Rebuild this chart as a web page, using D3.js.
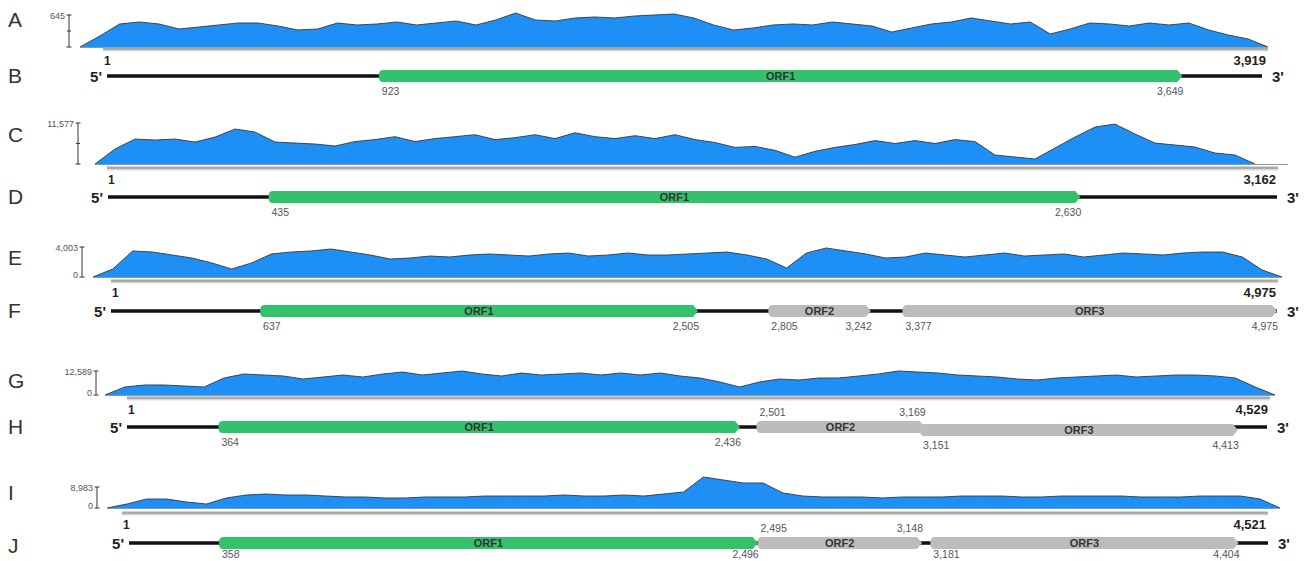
<!DOCTYPE html>
<html>
<head>
<meta charset="utf-8">
<script src="https://cdn.jsdelivr.net/npm/d3@7"></script>
<style>
  body { margin: 0; background: #fff; }
  svg text { font-family: "Liberation Sans", Arial, sans-serif; }
</style>
</head>
<body>
<div id="chart"></div>
<script>
/* DATA */
const panelLetters = ["A", "B", "C", "D", "E", "F", "G", "H", "I", "J"];
const genomeLengths = [3919, 3162, 4975, 4529, 4521];
const coverageMax = [645, 11577, 4003, 12589, 8983];

// coverage, evenly spaced bins along each genome
const covA = [0,222,464,504,464,363,403,444,484,484,423,343,363,484,444,464,504,444,484,524,444,544,685,544,524,585,605,585,625,645,665,585,444,343,383,444,464,444,504,464,423,302,383,464,504,585,524,464,504,262,363,484,464,423,484,444,484,343,242,161,0];
const covC = [0,4230,7050,6770,7050,6200,7610,9870,9020,6200,5920,5640,5080,6340,6890,7720,6340,7170,7720,8270,6890,7440,8270,7170,8820,7720,7170,7990,7170,8270,6890,6060,4690,4960,3860,1930,3580,4690,5510,6610,5790,6610,5790,6890,6340,2540,1970,1410,4510,7610,10430,11280,8460,5920,5360,4790,3100,2540,0];
const covE = [0,1070,3470,3335,2935,2535,1870,1070,1870,3070,3335,3470,3735,3335,2935,2400,2535,2800,2670,2935,3070,2935,2800,3070,3200,2800,2935,3200,2935,2935,3070,3200,3335,2935,2400,1200,3200,3870,3470,3070,2535,2670,3200,2935,2670,2935,3200,2800,2935,3070,2670,2935,3200,3070,2935,3200,3335,3335,2670,930,0];
const covG = [0,4200,5250,5250,4720,4200,8920,11010,10490,9970,8390,9440,10490,9440,11010,12060,10490,11540,12590,11010,9970,11540,10490,11010,11540,10490,11540,10490,11540,9970,8920,6820,4200,6820,8390,7870,8920,8920,9970,11010,12590,12060,11540,10490,9970,9440,8390,7870,8920,9440,9970,10490,9440,9970,10490,10490,9970,8920,4200,0];
const covI = [0,1710,3850,3850,2570,1710,4280,5560,5990,5560,5560,5130,4710,4710,4280,4280,4710,4710,4710,5130,5130,5130,5130,5560,5130,5130,5560,5130,5990,6840,13260,11980,10700,10700,6420,5130,4710,4710,4710,4280,4710,4710,4710,5130,5130,5130,4710,4710,5130,5130,5130,5130,4710,4710,4710,5130,5130,5130,3850,0];
const coverage = [covA, covC, covE, covG, covI];

const orfNames = [["ORF1"], ["ORF1"], ["ORF1", "ORF2", "ORF3"], ["ORF1", "ORF2", "ORF3"], ["ORF1", "ORF2", "ORF3"]];
const orfStarts = [[923], [435], [637, 2805, 3377], [364, 2501, 3151], [358, 2495, 3181]];
const orfEnds = [[3649], [2630], [2505, 3242, 4975], [2436, 3169, 4413], [2496, 3148, 4404]];

/* LAYOUT */
const width = 1306, height = 561;
const rows = [
  { covBase: 47,  covPx: 32, covX: [80, 1268],  barX: 69, zeroLabel: false, gY: 49,  gX: [103, 1268], rowY: 76,  rowX: [107, 1262], letterY: [20, 76] },
  { covBase: 164, covPx: 41, covX: [95, 1255],  barX: 78, zeroLabel: false, gY: 168, gX: [107, 1278], rowY: 197, rowX: [108, 1277], letterY: [135, 197], baseEnd: 1288 },
  { covBase: 277, covPx: 30, covX: [93, 1282],  barX: 82, zeroLabel: true,  gY: 281, gX: [111, 1278], rowY: 311, rowX: [111, 1277], letterY: [258, 311] },
  { covBase: 395, covPx: 24, covX: [105, 1275], barX: 96, zeroLabel: true,  gY: 398, gX: [127, 1270], rowY: 427, rowX: [127, 1267], letterY: [381, 427] },
  { covBase: 508, covPx: 21, covX: [107, 1280], barX: 97, zeroLabel: true,  gY: 513, gX: [122, 1268], rowY: 543, rowX: [129, 1268], letterY: [493, 546] }
];
const fmt = d3.format(",");

const svg = d3.select("#chart").append("svg")
  .attr("width", width)
  .attr("height", height);

rows.forEach((r, i) => {
  const len = genomeLengths[i];
  const cov = coverage[i];

  // letters
  svg.append("text").attr("x", 8).attr("y", r.letterY[0] + 7)
    .attr("font-size", 21).attr("fill", "#333").text(panelLetters[i * 2]);
  svg.append("text").attr("x", 8).attr("y", r.letterY[1] + 7)
    .attr("font-size", 21).attr("fill", "#333").text(panelLetters[i * 2 + 1]);

  // COVERAGE
  const xCov = d3.scaleLinear().domain([0, cov.length - 1]).range(r.covX);
  const yCov = d3.scaleLinear().domain([0, coverageMax[i]]).range([r.covBase, r.covBase - r.covPx]);

  const area = d3.area().x((d, j) => xCov(j)).y0(r.covBase).y1(d => yCov(d));
  const line = d3.line().x((d, j) => xCov(j)).y(d => yCov(d));

  svg.append("path").datum(cov).attr("d", area).attr("fill", "#1e8ff5");
  svg.append("path").datum(cov).attr("d", line)
    .attr("fill", "none").attr("stroke", "#2c3a48").attr("stroke-width", 0.9);
  svg.append("line")
    .attr("x1", r.covX[0]).attr("x2", r.baseEnd || r.covX[1])
    .attr("y1", r.covBase + 0.5).attr("y2", r.covBase + 0.5)
    .attr("stroke", "#8a9aa8").attr("stroke-width", 1);

  // scale bar
  const bar = svg.append("g").attr("transform", `translate(${r.barX},0)`);
  bar.append("line").attr("y1", yCov(coverageMax[i])).attr("y2", r.covBase)
    .attr("stroke", "#333").attr("stroke-width", 1);
  [coverageMax[i], 0].forEach(v => {
    bar.append("line").attr("x1", -2.5).attr("x2", 2.5)
      .attr("y1", yCov(v)).attr("y2", yCov(v)).attr("stroke", "#333");
  });
  if (!r.zeroLabel) {
    bar.append("line").attr("x1", -2).attr("x2", 2)
      .attr("y1", yCov(coverageMax[i] / 2)).attr("y2", yCov(coverageMax[i] / 2)).attr("stroke", "#333");
  }
  bar.append("text").attr("x", -4).attr("y", yCov(coverageMax[i]) + 4)
    .attr("text-anchor", "end").attr("font-size", 9).attr("fill", "#555")
    .text(fmt(coverageMax[i]));
  if (r.zeroLabel) {
    bar.append("text").attr("x", -4).attr("y", r.covBase + 1)
      .attr("text-anchor", "end").attr("font-size", 9).attr("fill", "#555").text("0");
  }

  // genome ruler under the coverage
  const xG = d3.scaleLinear().domain([1, len]).range(r.gX);
  svg.append("rect").attr("x", xG(1)).attr("y", r.gY - 1.5)
    .attr("width", xG(len) - xG(1)).attr("height", 3).attr("fill", "#a9a9a9");
  svg.append("line").attr("x1", xG(1)).attr("x2", xG(len))
    .attr("y1", r.gY + 2).attr("y2", r.gY + 2).attr("stroke", "#dcdcdc");
  svg.append("text").attr("x", xG(1) + 1).attr("y", r.gY + 16)
    .attr("font-size", 12).attr("font-weight", "bold").attr("fill", "#222").text("1");
  svg.append("text").attr("x", xG(len) - 2).attr("y", r.gY + 16)
    .attr("text-anchor", "end").attr("font-size", 13).attr("font-weight", "bold")
    .attr("fill", "#222").text(fmt(len));

  // GENOME MAP
  const x = d3.scaleLinear().domain([1, len]).range(r.rowX);
  svg.append("line").attr("x1", x(1)).attr("x2", x(len))
    .attr("y1", r.rowY).attr("y2", r.rowY)
    .attr("stroke", "#111").attr("stroke-width", 3.5);
  svg.append("text").attr("x", x(1) - 5).attr("y", r.rowY + 6)
    .attr("text-anchor", "end").attr("font-size", 15).attr("font-weight", "bold")
    .attr("fill", "#222").text("5'");
  svg.append("text").attr("x", x(len) + 10).attr("y", r.rowY + 6)
    .attr("font-size", 15).attr("font-weight", "bold").attr("fill", "#222").text("3'");

  const h = 12;
  orfNames[i].forEach((name, k) => {
    const s = orfStarts[i][k], e = orfEnds[i][k];
    const prevEnd = k > 0 ? orfEnds[i][k - 1] : -1e9;
    const overlaps = k > 0 && prevEnd - s > 5;
    const above = k > 0 && (s - prevEnd) < 150 && k < orfNames[i].length - 1;
    const cy = r.rowY + (overlaps ? 3 : 0);
    const x0 = x(s), x1 = x(e);
    const c = 4, tip = 5;
    const p = d3.path();
    p.moveTo(x0 + c, cy - h / 2);
    p.lineTo(x1 - tip, cy - h / 2);
    p.lineTo(x1, cy);
    p.lineTo(x1 - tip, cy + h / 2);
    p.lineTo(x0 + c, cy + h / 2);
    p.quadraticCurveTo(x0, cy + h / 2, x0, cy);
    p.quadraticCurveTo(x0, cy - h / 2, x0 + c, cy - h / 2);
    p.closePath();
    svg.append("path").attr("d", p.toString())
      .attr("fill", name === "ORF1" ? "#33c16c" : "#bcbcbc");
    svg.append("text").attr("x", (x0 + x1) / 2).attr("y", cy + 4)
      .attr("text-anchor", "middle").attr("font-size", 11).attr("font-weight", "bold")
      .attr("fill", "#333").text(name);

    const ly = above ? cy - 11 : Math.min(cy + 19, height - 3);
    svg.append("text").attr("x", x0 + 3).attr("y", ly)
      .attr("font-size", 10.5).attr("fill", "#555").text(fmt(s));
    svg.append("text").attr("x", x1 + 1).attr("y", ly)
      .attr("text-anchor", "end").attr("font-size", 10.5).attr("fill", "#555").text(fmt(e));
  });
});
</script>
</body>
</html>
